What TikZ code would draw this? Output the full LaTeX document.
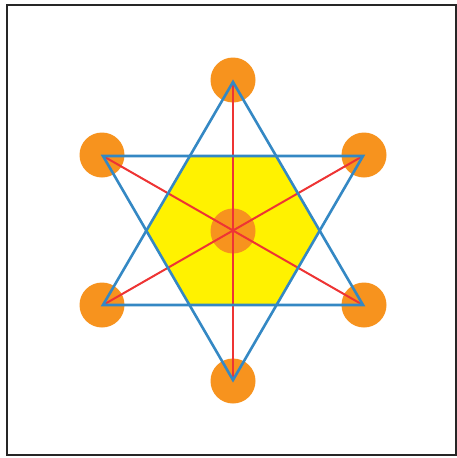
\documentclass[tikz,border=0pt]{standalone}
\definecolor{dotorange}{RGB}{247,147,30}
\definecolor{hexyellow}{RGB}{255,242,0}
\definecolor{starblue}{RGB}{52,136,196}
\definecolor{diagred}{RGB}{238,52,52}
\tikzset{
  frame/.style={draw=black!85,line width=2pt},
  dot/.style={circle,fill=dotorange,minimum size=45pt,inner sep=0pt},
  starline/.style={draw=starblue,line width=2.6pt,line join=miter},
  diag/.style={draw=diagred,line width=2pt}
}
\begin{document}
\begin{tikzpicture}[x=1pt,y=-1pt]
\useasboundingbox (0,0) rectangle (457,458);
\fill[white] (0,0) rectangle (457,458);
\draw[frame] (7,5) rectangle (456,455);
% star vertices
\coordinate (c) at (233,231);
\coordinate (t) at (233,82);
\coordinate (b) at (233,380);
\coordinate (ul) at (103,156);
\coordinate (ur) at (363,156);
\coordinate (ll) at (103,305);
\coordinate (lr) at (363,305);
% inner hexagon
\fill[hexyellow] (147,231) -- (190,156) -- (276,156) -- (319,231) -- (276,305) -- (190,305) -- cycle;
% dots
\node[dot] (dt) at (233,80) {};
\node[dot] (db) at (233,381) {};
\node[dot] (dul) at (102,155) {};
\node[dot] (dur) at (364,155) {};
\node[dot] (dll) at (102,305) {};
\node[dot] (dlr) at (364,305) {};
\node[dot] (dc) at (233,231) {};
% red diagonals
\draw[diag] (t) -- (b);
\draw[diag] (ul) -- (lr);
\draw[diag] (ur) -- (ll);
% blue star
\draw[starline] (t) -- (ll) -- (lr) -- cycle;
\draw[starline] (b) -- (ul) -- (ur) -- cycle;
\end{tikzpicture}
\end{document}
